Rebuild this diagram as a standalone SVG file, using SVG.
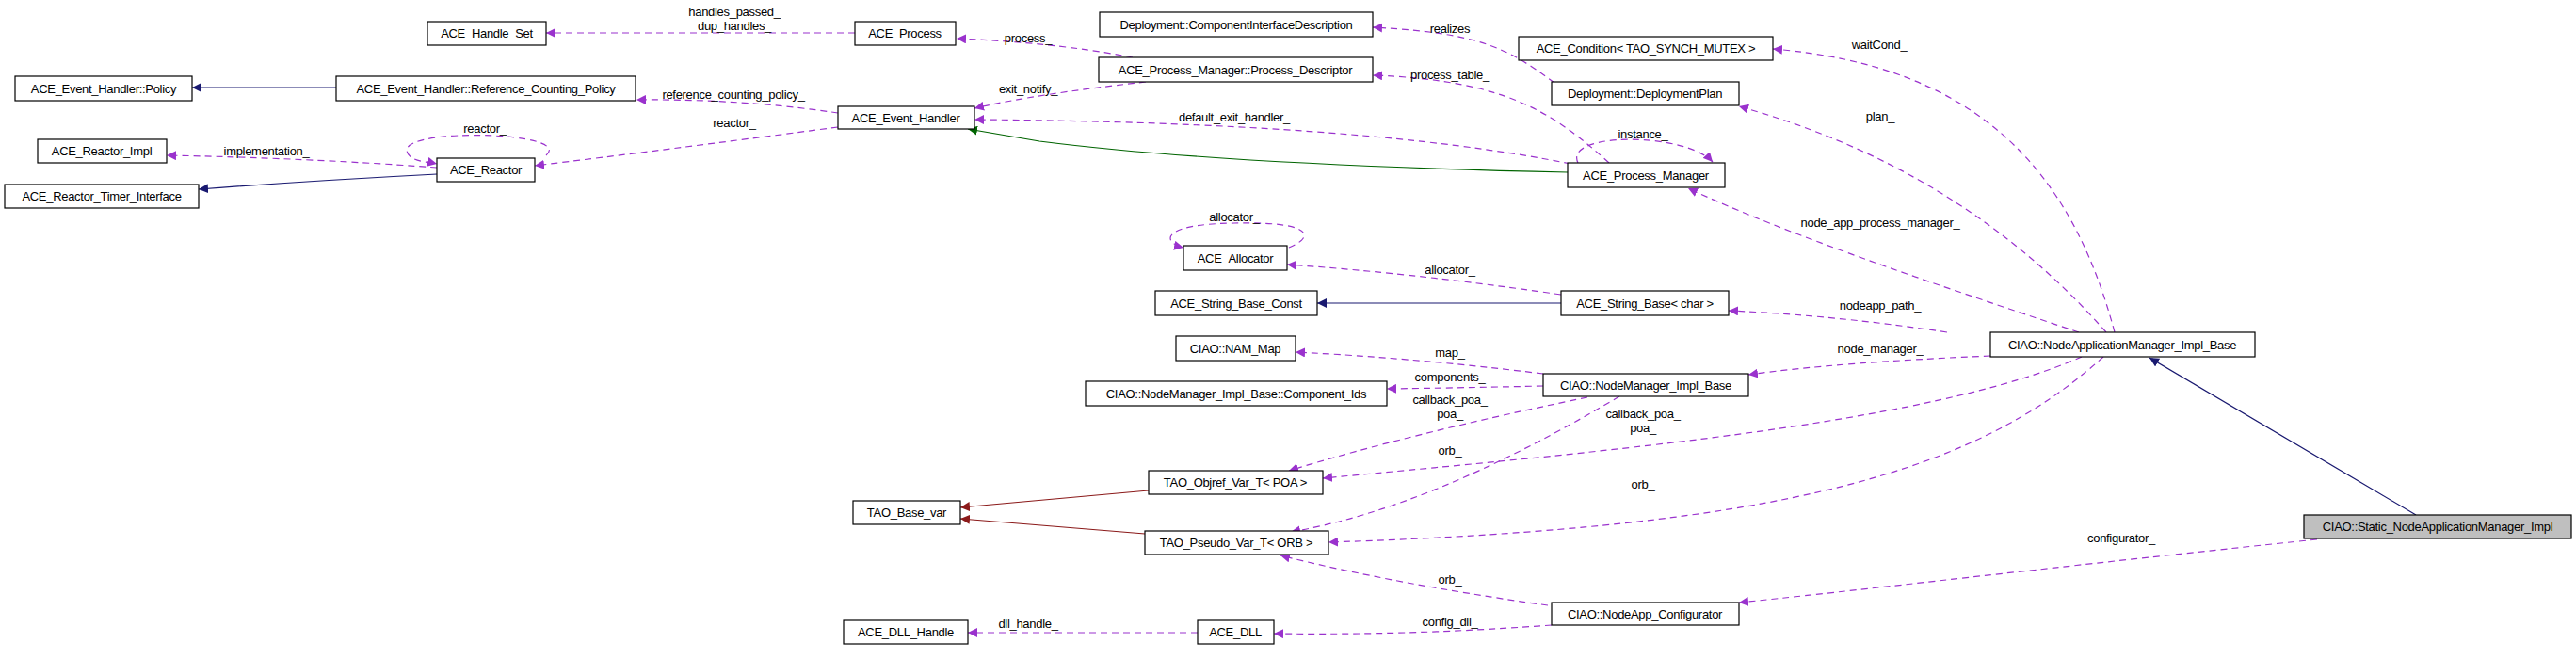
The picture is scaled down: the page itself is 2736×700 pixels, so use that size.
<svg xmlns="http://www.w3.org/2000/svg" width="2736" height="700" viewBox="0 0 2736 700">
<style>
.n rect{fill:#fff;stroke:#000;stroke-width:1.2}
.n text,.l{font-family:"Liberation Sans",Arial,sans-serif;font-size:13px;letter-spacing:-0.3px;fill:#000}
.n text{text-anchor:middle}
.l{text-anchor:middle}
.d{fill:none;stroke:#9a32cd;stroke-width:1.2;stroke-dasharray:7,5;marker-end:url(#ap)}
.b{fill:none;stroke:#191970;stroke-width:1.2;marker-end:url(#ab)}
.g{fill:none;stroke:#006400;stroke-width:1.2;marker-end:url(#ag)}
.r{fill:none;stroke:#8b1a1a;stroke-width:1.2;marker-end:url(#ar)}
</style>
<defs>
<marker id="ap" viewBox="0 0 10 10" refX="10" refY="5" markerWidth="10" markerHeight="10" markerUnits="userSpaceOnUse" orient="auto"><path d="M0,0L10,5L0,10z" fill="#9a32cd"/></marker>
<marker id="ab" viewBox="0 0 10 10" refX="10" refY="5" markerWidth="10" markerHeight="10" markerUnits="userSpaceOnUse" orient="auto"><path d="M0,0L10,5L0,10z" fill="#191970"/></marker>
<marker id="ag" viewBox="0 0 10 10" refX="10" refY="5" markerWidth="10" markerHeight="10" markerUnits="userSpaceOnUse" orient="auto"><path d="M0,0L10,5L0,10z" fill="#006400"/></marker>
<marker id="ar" viewBox="0 0 10 10" refX="10" refY="5" markerWidth="10" markerHeight="10" markerUnits="userSpaceOnUse" orient="auto"><path d="M0,0L10,5L0,10z" fill="#8b1a1a"/></marker>
</defs>
<rect width="2736" height="700" fill="#fff"/>
<g id="edges">
<path class="d" d="M908,35 L580,35"/>
<path class="b" d="M357,93 L204,93"/>
<path class="d" d="M890,120 Q790,105 676,106"/>
<path class="d" d="M890,135 Q700,160 568,176"/>
<path class="d" d="M580,165 C610,140 430,135 432,160 C434,172 455,172 464,174"/>
<path class="d" d="M464,178 Q330,168 177,165"/>
<path class="b" d="M464,185 Q330,192 211,201"/>
<path class="d" d="M1203,61 Q1120,45 1016,41"/>
<path class="d" d="M1217,87 Q1100,100 1035,115"/>
<path class="d" d="M1668,174 Q1450,130 1035,127"/>
<path class="g" d="M1665,183 Q1300,175 1104,150 L1028,137"/>
<path class="d" d="M1709,173 C1650,120 1600,85 1458,80"/>
<path class="d" d="M1651,88 C1600,50 1570,35 1458,29"/>
<path class="d" d="M1676,173 C1660,140 1790,140 1819,172"/>
<path class="d" d="M1369,263 C1400,250 1390,235 1311,237 C1230,238 1235,258 1257,263"/>
<path class="d" d="M1658,313 Q1500,290 1367,281"/>
<path class="b" d="M1658,322 L1399,322"/>
<path class="d" d="M2246,353 C2200,180 2100,70 1883,52"/>
<path class="d" d="M2237,353 C2120,220 1980,150 1847,113"/>
<path class="d" d="M2208,353 C2050,300 1900,250 1793,200"/>
<path class="d" d="M2068,353 Q1950,335 1836,330"/>
<path class="d" d="M1639,397 Q1500,380 1376,374"/>
<path class="d" d="M1639,410 Q1550,412 1473,413"/>
<path class="d" d="M1686,422 Q1500,460 1369,500"/>
<path class="d" d="M1720,421 Q1520,540 1371,565"/>
<path class="d" d="M2211,379 C2050,450 1700,480 1405,508"/>
<path class="d" d="M2234,379 C2100,500 1900,560 1411,576"/>
<path class="d" d="M1644,643 Q1480,620 1360,590"/>
<path class="d" d="M1648,664 Q1500,675 1353,673"/>
<path class="d" d="M1272,672 L1028,672"/>
<path class="r" d="M1220,521 L1020,539"/>
<path class="r" d="M1216,567 L1020,551"/>
<path class="d" d="M2114,378 Q1950,385 1857,398"/>
<path class="b" d="M2566,547 L2283,380"/>
<path class="d" d="M2461,573 C2200,600 1950,630 1847,640"/>
</g>
<g id="labels">
<text class="l" x="780" y="17">handles_passed_</text>
<text class="l" x="780" y="32">dup_handles_</text>
<text class="l" x="779" y="105">reference_counting_policy_</text>
<text class="l" x="780" y="135">reactor_</text>
<text class="l" x="515" y="141">reactor_</text>
<text class="l" x="283" y="165">implementation_</text>
<text class="l" x="1092" y="45">process_</text>
<text class="l" x="1540" y="35">realizes</text>
<text class="l" x="1540" y="84">process_table_</text>
<text class="l" x="1092" y="99">exit_notify_</text>
<text class="l" x="1311" y="129">default_exit_handler_</text>
<text class="l" x="1745" y="147">instance_</text>
<text class="l" x="1311" y="235">allocator_</text>
<text class="l" x="1540" y="291">allocator_</text>
<text class="l" x="1996" y="52">waitCond_</text>
<text class="l" x="1997" y="128">plan_</text>
<text class="l" x="1997" y="241">node_app_process_manager_</text>
<text class="l" x="1997" y="329">nodeapp_path_</text>
<text class="l" x="1540" y="379">map_</text>
<text class="l" x="1540" y="405">components_</text>
<text class="l" x="1540" y="429">callback_poa_</text>
<text class="l" x="1540" y="444">poa_</text>
<text class="l" x="1745" y="444">callback_poa_</text>
<text class="l" x="1745" y="459">poa_</text>
<text class="l" x="1540" y="483">orb_</text>
<text class="l" x="1745" y="519">orb_</text>
<text class="l" x="1540" y="620">orb_</text>
<text class="l" x="1540" y="665">config_dll_</text>
<text class="l" x="1092" y="667">dll_handle_</text>
<text class="l" x="1997" y="375">node_manager_</text>
<text class="l" x="2253" y="576">configurator_</text>
</g>
<g id="ACE_Handle_Set" class="n"><rect x="454" y="23" width="126" height="25"/><text x="517" y="40">ACE_Handle_Set</text></g>
<g id="ACE_Event_Handler_Policy" class="n"><rect x="16" y="81" width="188" height="26"/><text x="110" y="99">ACE_Event_Handler::Policy</text></g>
<g id="Reference_Counting_Policy" class="n"><rect x="357" y="81" width="318" height="26"/><text x="516" y="99">ACE_Event_Handler::Reference_Counting_Policy</text></g>
<g id="ACE_Reactor_Impl" class="n"><rect x="40" y="148" width="137" height="25"/><text x="108" y="165">ACE_Reactor_Impl</text></g>
<g id="ACE_Reactor" class="n"><rect x="464" y="168" width="104" height="25"/><text x="516" y="185">ACE_Reactor</text></g>
<g id="ACE_Reactor_Timer_Interface" class="n"><rect x="5" y="196" width="206" height="25"/><text x="108" y="213">ACE_Reactor_Timer_Interface</text></g>
<g id="ACE_Event_Handler" class="n"><rect x="890" y="113" width="145" height="24"/><text x="962" y="130">ACE_Event_Handler</text></g>
<g id="ACE_Process" class="n"><rect x="908" y="23" width="107" height="25"/><text x="961" y="40">ACE_Process</text></g>
<g id="ComponentInterfaceDescription" class="n"><rect x="1168" y="13" width="290" height="26"/><text x="1313" y="31">Deployment::ComponentInterfaceDescription</text></g>
<g id="Process_Descriptor" class="n"><rect x="1167" y="61" width="291" height="26"/><text x="1312" y="79">ACE_Process_Manager::Process_Descriptor</text></g>
<g id="ACE_Condition" class="n"><rect x="1613" y="39" width="270" height="25"/><text x="1748" y="56">ACE_Condition&lt; TAO_SYNCH_MUTEX &gt;</text></g>
<g id="DeploymentPlan" class="n"><rect x="1648" y="87" width="199" height="25"/><text x="1747" y="104">Deployment::DeploymentPlan</text></g>
<g id="ACE_Process_Manager" class="n"><rect x="1665" y="173" width="167" height="26"/><text x="1748" y="191">ACE_Process_Manager</text></g>
<g id="ACE_Allocator" class="n"><rect x="1257" y="261" width="110" height="26"/><text x="1312" y="279">ACE_Allocator</text></g>
<g id="ACE_String_Base_Const" class="n"><rect x="1227" y="309" width="172" height="26"/><text x="1313" y="327">ACE_String_Base_Const</text></g>
<g id="ACE_String_Base" class="n"><rect x="1658" y="309" width="178" height="26"/><text x="1747" y="327">ACE_String_Base&lt; char &gt;</text></g>
<g id="NAM_Map" class="n"><rect x="1249" y="357" width="127" height="26"/><text x="1312" y="375">CIAO::NAM_Map</text></g>
<g id="Component_Ids" class="n"><rect x="1153" y="405" width="320" height="26"/><text x="1313" y="423">CIAO::NodeManager_Impl_Base::Component_Ids</text></g>
<g id="NodeManager_Impl_Base" class="n"><rect x="1639" y="397" width="218" height="24"/><text x="1748" y="414">CIAO::NodeManager_Impl_Base</text></g>
<g id="TAO_Objref_Var_T" class="n"><rect x="1220" y="500" width="185" height="25"/><text x="1312" y="517">TAO_Objref_Var_T&lt; POA &gt;</text></g>
<g id="TAO_Base_var" class="n"><rect x="906" y="532" width="114" height="25"/><text x="963" y="549">TAO_Base_var</text></g>
<g id="TAO_Pseudo_Var_T" class="n"><rect x="1216" y="564" width="195" height="25"/><text x="1313" y="581">TAO_Pseudo_Var_T&lt; ORB &gt;</text></g>
<g id="NodeApp_Configurator" class="n"><rect x="1648" y="640" width="199" height="24"/><text x="1747" y="657">CIAO::NodeApp_Configurator</text></g>
<g id="ACE_DLL_Handle" class="n"><rect x="896" y="659" width="132" height="25"/><text x="962" y="676">ACE_DLL_Handle</text></g>
<g id="ACE_DLL" class="n"><rect x="1272" y="659" width="81" height="25"/><text x="1312" y="676">ACE_DLL</text></g>
<g id="NodeApplicationManager_Impl_Base" class="n"><rect x="2114" y="353" width="281" height="26"/><text x="2254" y="371">CIAO::NodeApplicationManager_Impl_Base</text></g>
<g id="Static_NodeApplicationManager_Impl" class="n"><rect x="2447" y="547" width="284" height="25" style="fill:#bfbfbf"/><text x="2589" y="564">CIAO::Static_NodeApplicationManager_Impl</text></g>
</svg>
